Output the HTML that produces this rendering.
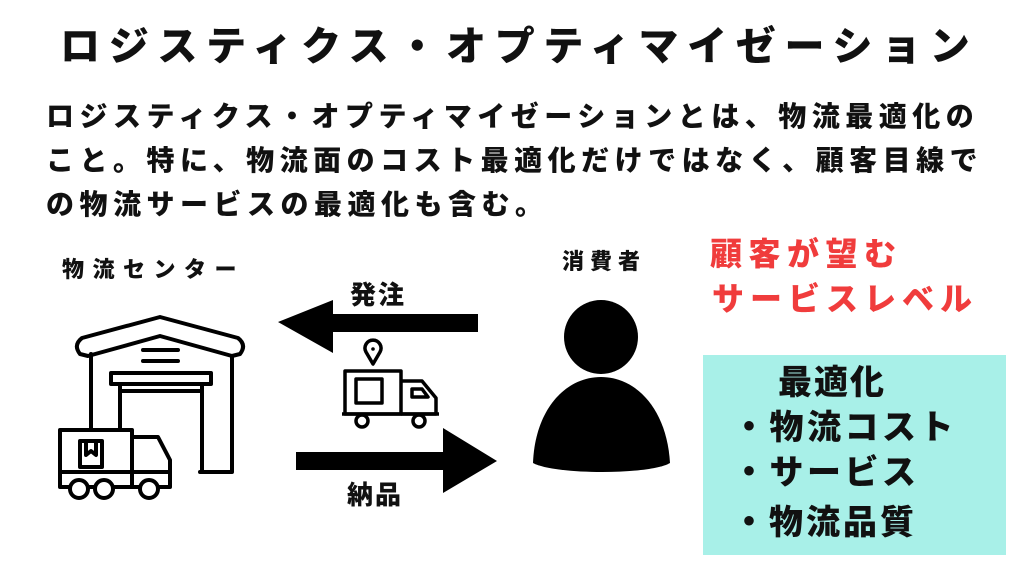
<!DOCTYPE html>
<html><head><meta charset="utf-8"><style>
html,body{margin:0;padding:0;}
body{width:1024px;height:576px;position:relative;background:#fff;overflow:hidden;font-family:"Liberation Sans","Noto Sans CJK JP",sans-serif;font-weight:900;color:#111;}
.t{position:absolute;white-space:nowrap;line-height:1;}
</style></head><body>
<div class="t" style="left:60px;top:27px;font-size:40px;letter-spacing:8.7px;">ロジスティクス・オプティマイゼーション</div>
<div class="t" style="left:46px;top:103px;font-size:28px;letter-spacing:5.5px;">ロジスティクス・オプティマイゼーションとは、物流最適化の</div>
<div class="t" style="left:46px;top:147px;font-size:28px;letter-spacing:5.5px;">こと。特に、物流面のコスト最適化だけではなく、顧客目線で</div>
<div class="t" style="left:46px;top:191px;font-size:28px;letter-spacing:5.5px;">の物流サービスの最適化も含む。</div>
<div class="t" style="left:62px;top:259px;font-size:22px;letter-spacing:8.5px;">物流センター</div>
<div class="t" style="left:562px;top:251px;font-size:22px;letter-spacing:6px;">消費者</div>
<div class="t" style="left:710px;top:238px;font-size:32px;letter-spacing:6.5px;color:#f03c3c;">顧客が望む</div>
<div class="t" style="left:712px;top:283px;font-size:32px;letter-spacing:6px;color:#f03c3c;">サービスレベル</div>
<div style="position:absolute;left:703px;top:355px;width:303px;height:200px;background:#a8f0e8;"></div>
<div class="t" style="left:778px;top:366px;font-size:34px;letter-spacing:2px;">最適化</div>
<div class="t" style="left:732px;top:411px;font-size:34px;letter-spacing:3.5px;">・物流コスト</div>
<div class="t" style="left:732px;top:456px;font-size:34px;letter-spacing:3.5px;">・サービス</div>
<div class="t" style="left:732px;top:506px;font-size:34px;letter-spacing:3px;">・物流品質</div>
<div class="t" style="left:350px;top:282px;font-size:26px;letter-spacing:2px;">発注</div>
<div class="t" style="left:347px;top:482px;font-size:26px;letter-spacing:2px;">納品</div>
<svg width="1024" height="576" style="position:absolute;left:0;top:0">
<polygon points="278,322 333,300 333,314 478,314 478,332 333,332 333,353" fill="#000"/>
<polygon points="296,452 443,452 443,428 497,461 443,493 443,470 296,470" fill="#000"/>
<circle cx="601" cy="337" r="37" fill="#000"/>
<path d="M533,463 C535,410 565,377 601,377 C637,377 667,410 670,463 C650,475 555,475 533,463 Z" fill="#000"/>
<g fill="none" stroke="#000" stroke-width="4" stroke-linejoin="round" stroke-linecap="round">
<path d="M82,338 L160,317 L238,338 Q247,345 240,354 L232,356 L160,336 L88,356 L80,354 Q73,345 82,338 Z"/>
<path d="M91,354 L91,428 M232,356 L232,472 L200,472"/>
<line x1="143" y1="350" x2="178" y2="350"/><line x1="143" y1="361" x2="178" y2="361"/>
<rect x="111" y="373" width="100" height="11"/>
<path d="M120,384 L120,428 M202,384 L202,470 M120,391 L202,391"/>
<rect x="60" y="430" width="72" height="57"/>
<path d="M132,437 L158,437 L170,460 L170,487 L132,487"/>
<line x1="60" y1="472" x2="170" y2="472"/>
<rect x="80" y="441" width="22" height="26"/>
<path d="M86,441 L86,455 L91,451 L96,455 L96,441"/>
<circle cx="79" cy="489" r="9" fill="#fff"/><circle cx="104" cy="489" r="9" fill="#fff"/><circle cx="149" cy="489" r="9" fill="#fff"/>
</g>
<g fill="none" stroke="#000" stroke-width="3.5" stroke-linejoin="round">
<path d="M373,364 L366,352 A8,8 0 1 1 380,352 Z"/>
<rect x="345" y="371" width="56" height="43"/>
<path d="M401,381 L422,381 L436,398 L436,414 L401,414"/>
<path d="M412,389 L422,389 L428,397 L412,397 Z"/>
<rect x="356" y="379" width="26" height="24"/>
<line x1="342" y1="414" x2="439" y2="414"/>
<circle cx="362" cy="421" r="6" fill="#fff"/><circle cx="419" cy="421" r="6" fill="#fff"/>
</g>
<circle cx="373" cy="349" r="1.8" fill="#000"/>
</svg>
</body></html>
